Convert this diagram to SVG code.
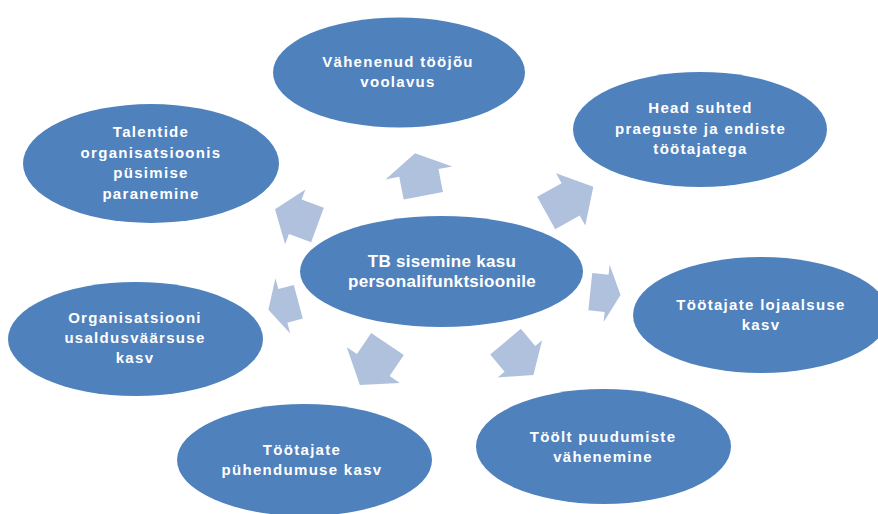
<svg xmlns="http://www.w3.org/2000/svg" width="878" height="514" viewBox="0 0 878 514">
<style>
  .node { fill: #4F81BD; }
  .arrow { fill: #AFC1DD; }
  .t { fill: #FFFFFF; font-family: "Liberation Sans", Arial, sans-serif; font-weight: bold; font-size: 15px; letter-spacing: 1.3px; text-anchor: middle; }
  .tc { font-size: 17px; letter-spacing: 0.3px; }
</style>
<rect x="0" y="0" width="878" height="514" fill="#FFFFFF"/>
<g id="connectors">
  <path class="arrow" transform="translate(423.3,195.8) rotate(-101)" d="M0,-20 L23.3,-20 L23.3,-34 L43.3,0 L23.3,34 L23.3,20 L0,20 Z"/>
  <path class="arrow" transform="translate(546.2,213) rotate(-29.2)" d="M0,-18.5 L28,-18.5 L28,-30 L54,0 L28,30 L28,18.5 L0,18.5 Z"/>
  <path class="arrow" transform="translate(590.3,291.7) rotate(6)" d="M0,-18.7 L16.4,-18.7 L16.4,-28.8 L30.4,0 L16.4,28.8 L16.4,18.7 L0,18.7 Z"/>
  <path class="arrow" transform="translate(505.5,341.7) rotate(50)" d="M0,-20 L22.4,-20 L22.4,-29 L43.4,0 L22.4,29 L22.4,20 L0,20 Z"/>
  <path class="arrow" transform="translate(387.5,344) rotate(124)" d="M0,-19.7 L25.4,-19.7 L25.4,-32 L49.4,0 L25.4,32 L25.4,19.7 L0,19.7 Z"/>
  <path class="arrow" transform="translate(298.3,301.7) rotate(165)" d="M0,-17.4 L16,-17.4 L16,-28.6 L31,0 L16,28.6 L16,17.4 L0,17.4 Z"/>
  <path class="arrow" transform="translate(317.5,225) rotate(-159.7)" d="M0,-18.3 L23.7,-18.3 L23.7,-29.2 L45.3,0 L23.7,29.2 L23.7,18.3 L0,18.3 Z"/>
</g>
<g id="node-center">
  <ellipse class="node" cx="441.5" cy="271.5" rx="141.5" ry="55.5"/>
  <text class="t tc" x="442" y="267">TB sisemine kasu</text>
  <text class="t tc" x="442" y="287">personalifunktsioonile</text>
</g>
<g id="node-top">
  <ellipse class="node" cx="399" cy="72.5" rx="126" ry="55"/>
  <text class="t" x="398" y="67">Vähenenud tööjõu</text>
  <text class="t" x="398" y="87">voolavus</text>
</g>
<g id="node-head">
  <ellipse class="node" cx="700" cy="129.5" rx="127" ry="57.5"/>
  <text class="t" x="700.5" y="113">Head suhted</text>
  <text class="t" x="700.5" y="134">praeguste ja endiste</text>
  <text class="t" x="700.5" y="154">töötajatega</text>
</g>
<g id="node-lojaalsus">
  <ellipse class="node" cx="761" cy="315" rx="128" ry="58"/>
  <text class="t" x="761" y="310">Töötajate lojaalsuse</text>
  <text class="t" x="761" y="330">kasv</text>
</g>
<g id="node-puudumised">
  <ellipse class="node" cx="603.5" cy="446.5" rx="127.5" ry="57.5"/>
  <text class="t" x="603" y="442">Töölt puudumiste</text>
  <text class="t" x="603" y="462">vähenemine</text>
</g>
<g id="node-puhendumus">
  <ellipse class="node" cx="304.5" cy="460" rx="127.5" ry="56"/>
  <text class="t" x="302" y="455">Töötajate</text>
  <text class="t" x="302" y="475">pühendumuse kasv</text>
</g>
<g id="node-usaldusvaarsus">
  <ellipse class="node" cx="135.5" cy="339" rx="127.5" ry="57"/>
  <text class="t" x="135" y="323">Organisatsiooni</text>
  <text class="t" x="135" y="343">usaldusväärsuse</text>
  <text class="t" x="135" y="363">kasv</text>
</g>
<g id="node-talentide">
  <ellipse class="node" cx="151" cy="163.5" rx="128" ry="59.5"/>
  <text class="t" x="151" y="137">Talentide</text>
  <text class="t" x="151" y="157.5">organisatsioonis</text>
  <text class="t" x="151" y="178">püsimise</text>
  <text class="t" x="151" y="198.5">paranemine</text>
</g>
</svg>
